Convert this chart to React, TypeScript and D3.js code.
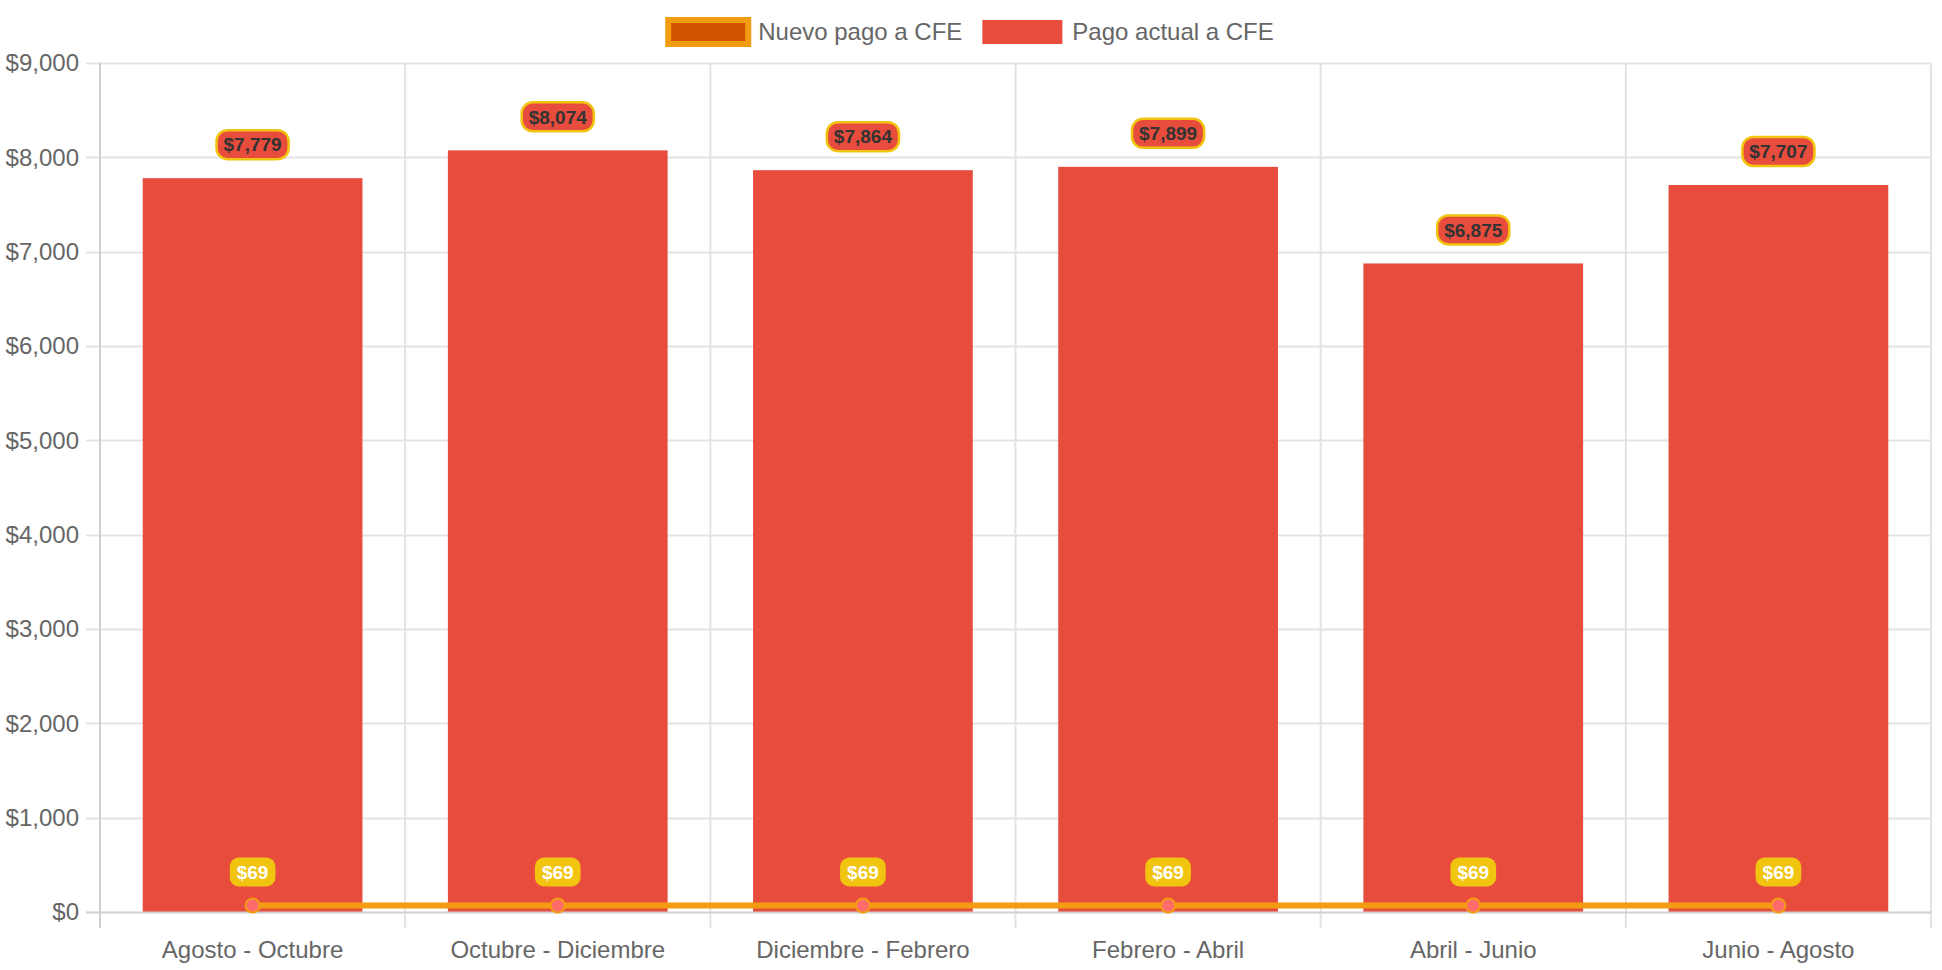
import React, { useRef, useEffect } from 'react'
import { select, scaleBand, scaleLinear, line, format } from 'd3'

const categories = ['Agosto - Octubre', 'Octubre - Diciembre', 'Diciembre - Febrero', 'Febrero - Abril', 'Abril - Junio', 'Junio - Agosto']
const pagoActual = [7779, 8074, 7864, 7899, 6875, 7707]
const nuevoPago = [69, 69, 69, 69, 69, 69]
const yTicks = [0, 1000, 2000, 3000, 4000, 5000, 6000, 7000, 8000, 9000]
const legendItems = ['Nuevo pago a CFE', 'Pago actual a CFE']

const W = 1942
const H = 970
const FONT = '"Liberation Sans", Arial, Helvetica, sans-serif'

export default function App () {
  const ref = useRef<SVGSVGElement>(null)

  useEffect(() => {
    if (ref.current === null) return
    document.body.style.margin = '0'
    const svg = select(ref.current)
    svg.selectAll('*').remove()

    const left = 100, right = 1931, top = 63, bottom = 912
    const x = scaleBand<string>().domain(categories).range([left, right])
    const y = scaleLinear().domain([0, 9000]).range([bottom, top])
    const money = (v: number) => '$' + format(',')(v)
    const bw = x.bandwidth()
    const cx = (c: string) => (x(c) as number) + bw / 2

    // grid
    const grid = svg.append('g')
    grid.selectAll('line.h').data(yTicks.filter(d => d > 0)).enter().append('line')
      .attr('x1', left - 14).attr('x2', right)
      .attr('y1', d => Math.round(y(d)) + 0.5).attr('y2', d => Math.round(y(d)) + 0.5)
      .attr('stroke', '#e3e3e3').attr('stroke-width', 2)
    const bounds = categories.map(c => x(c) as number).concat([right])
    grid.selectAll('line.v').data(bounds).enter().append('line')
      .attr('x1', d => d).attr('x2', d => d)
      .attr('y1', top).attr('y2', bottom + 16)
      .attr('stroke', (d, i) => i === 0 ? '#cfcfcf' : '#e3e3e3').attr('stroke-width', 2)

    // y labels
    svg.append('g').selectAll('text').data(yTicks).enter().append('text')
      .attr('x', 79).attr('y', d => y(d)).attr('dy', '0.35em')
      .attr('text-anchor', 'end').attr('font-family', FONT).attr('font-size', 24).attr('fill', '#666')
      .text(d => money(d))

    // x labels
    svg.append('g').selectAll('text').data(categories).enter().append('text')
      .attr('x', d => cx(d)).attr('y', 950).attr('dy', '0.35em')
      .attr('text-anchor', 'middle').attr('font-family', FONT).attr('font-size', 24).attr('fill', '#666')
      .text(d => d)

    // bars
    const barW = bw * 0.72
    svg.append('g').selectAll('rect').data(pagoActual).enter().append('rect')
      .attr('x', (d, i) => cx(categories[i]) - barW / 2)
      .attr('width', barW)
      .attr('y', d => y(d))
      .attr('height', d => bottom - y(d))
      .attr('fill', '#E74C3C')

    // zero line
    svg.append('line').attr('x1', left - 14).attr('x2', right)
      .attr('y1', bottom + 0.5).attr('y2', bottom + 0.5)
      .attr('stroke', '#cfcfcf').attr('stroke-width', 2)

    // line series
    const pts = nuevoPago.map((v, i) => [cx(categories[i]), y(v)] as [number, number])
    svg.append('path').attr('d', line()(pts) as string)
      .attr('fill', 'none').attr('stroke', '#F39C12').attr('stroke-width', 6)
    svg.append('g').selectAll('circle').data(pts).enter().append('circle')
      .attr('cx', d => d[0]).attr('cy', d => d[1]).attr('r', 7)
      .attr('fill', '#FF6B6B').attr('stroke', '#F39C12').attr('stroke-width', 2)

    // data labels
    const drawLabel = (px: number, py: number, txt: string, bg: string, border: string, fg: string, rx: number) => {
      const g = svg.append('g')
      const t = g.append('text').attr('font-family', FONT).attr('font-weight', 'bold')
        .attr('font-size', 19).attr('fill', fg).attr('text-anchor', 'middle')
        .attr('x', px).attr('y', py - 19 - 14.5).attr('dy', '0.35em').text(txt)
      const tw = (t.node() as SVGTextElement).getComputedTextLength()
      const bwid = tw + 14
      g.insert('rect', 'text')
        .attr('x', px - bwid / 2).attr('y', py - 19 - 29).attr('width', bwid).attr('height', 29)
        .attr('rx', rx).attr('fill', bg).attr('stroke', border).attr('stroke-width', border === 'none' ? 0 : 2.5)
    }
    pagoActual.forEach((v, i) => drawLabel(cx(categories[i]), y(v), money(v), '#E74C3C', '#F1C40F', '#333', 11))
    nuevoPago.forEach((v, i) => drawLabel(cx(categories[i]), y(v), money(v), '#F1C40F', 'none', '#fff', 9))

    // legend
    const lg = svg.append('g')
    const widths: number[] = []
    const tmp = legendItems.map(s => {
      const t = lg.append('text').attr('font-family', FONT).attr('font-size', 24).attr('fill', '#666').text(s)
      widths.push((t.node() as SVGTextElement).getComputedTextLength())
      return t
    })
    const boxW = 80, gapText = 10, gapItem = 20
    const total = widths.reduce((a, w) => a + boxW + gapText + w, 0) + gapItem * (legendItems.length - 1)
    let lx = W / 2 - total / 2
    legendItems.forEach((s, i) => {
      const r = lg.append('rect').attr('x', lx).attr('y', 20).attr('width', boxW).attr('height', 24)
      if (i === 0) r.attr('fill', '#D35400').attr('stroke', '#F39C12').attr('stroke-width', 6)
      else r.attr('fill', '#E74C3C')
      tmp[i].attr('x', lx + boxW + gapText).attr('y', 32).attr('dy', '0.35em')
      lx += boxW + gapText + widths[i] + gapItem
    })
  }, [])

  return <svg ref={ref} width={W} height={H} style={{ display: 'block', background: '#fff' }} />
}
